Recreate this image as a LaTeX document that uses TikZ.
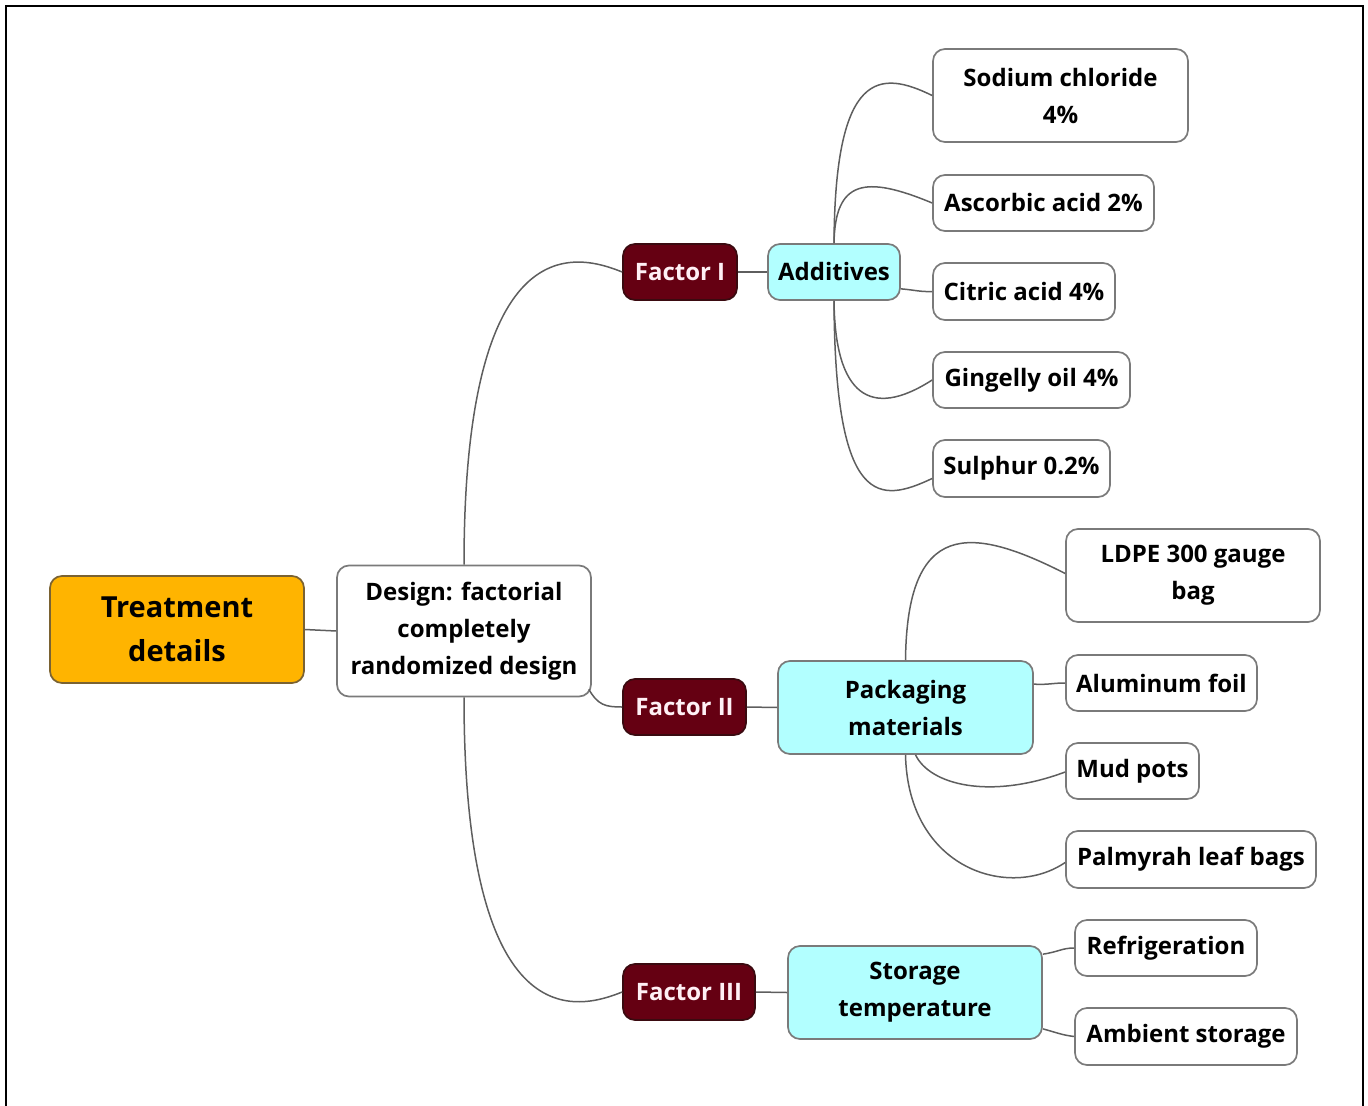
\documentclass[tikz,border=0pt]{standalone}
\usepackage{fontspec}
\setmainfont{Open Sans}
\usetikzlibrary{calc}
\definecolor{orng}{HTML}{FFB400}
\definecolor{orngdraw}{HTML}{7A6232}
\definecolor{dred}{HTML}{650012}
\definecolor{dreddraw}{HTML}{3A0A10}
\definecolor{cyanfill}{HTML}{B2FFFF}
\definecolor{bgray}{HTML}{7A7A7A}
\definecolor{lgray}{HTML}{5E5E5E}
\definecolor{ftext}{HTML}{FFF0F5}
\begin{document}
\begin{tikzpicture}[x=0.5pt,y=-0.5pt,
  box/.style={rounded corners=6pt, draw=bgray, line width=0.85pt, inner sep=0pt,
    align=center, font=\fontsize{12}{18.5}\selectfont\bfseries},
  leaf/.style={box, fill=white},
  factor/.style={box, fill=dred, draw=dreddraw, text=ftext},
  mid/.style={box, fill=cyanfill},
  root/.style={box, fill=orng, draw=orngdraw, font=\fontsize{14.5}{22}\selectfont\bfseries},
  link/.style={draw=lgray, line width=0.75pt}]
\useasboundingbox (0,0) rectangle (1368,1106);
\draw[line width=1pt] (6,1106) -- (6,6) -- (1363,6) -- (1363,1106);

\node[root, minimum width=127pt, minimum height=53.5pt] (treat) at (177,629.5) {Treatment\\details};
\node[leaf, minimum width=127pt, minimum height=65.5pt] (design) at (464,631) {Design: factorial\\completely\\randomized design};
\node[factor, minimum width=57pt, minimum height=28pt] (f1) at (680,272) {Factor I};
\node[factor, minimum width=61.5pt, minimum height=28pt] (f2) at (684.5,707) {Factor II};
\node[factor, minimum width=66pt, minimum height=28pt] (f3) at (689,992) {Factor III};
\node[mid, minimum width=66pt, minimum height=28pt] (add) at (834,272) {Additives};
\node[mid, minimum width=127.5pt, minimum height=46.5pt] (pack) at (905.5,707.5) {Packaging\\materials};
\node[mid, minimum width=127pt, minimum height=46.5pt] (stor) at (915,992.5) {Storage\\temperature};
\node[leaf, minimum width=127.5pt, minimum height=46.5pt] (sod) at (1060.5,95.5) {Sodium chloride\\4\%};
\node[leaf, minimum width=110.5pt, minimum height=28pt] (asc) at (1043.5,203) {Ascorbic acid 2\%};
\node[leaf, minimum width=91pt, minimum height=28.5pt] (cit) at (1024,291.5) {Citric acid 4\%};
\node[leaf, minimum width=98.5pt, minimum height=28pt] (gin) at (1031.5,380) {Gingelly oil 4\%};
\node[leaf, minimum width=88.5pt, minimum height=28.5pt] (sul) at (1021.5,468.5) {Sulphur 0.2\%};
\node[leaf, minimum width=127pt, minimum height=46.5pt] (ldpe) at (1193,575.5) {LDPE 300 gauge\\bag};
\node[leaf, minimum width=95.5pt, minimum height=28pt] (alu) at (1161.5,683) {Aluminum foil};
\node[leaf, minimum width=66.5pt, minimum height=28pt] (mud) at (1132.5,771) {Mud pots};
\node[leaf, minimum width=125pt, minimum height=28.5pt] (palm) at (1191,859.5) {Palmyrah leaf bags};
\node[leaf, minimum width=91pt, minimum height=28pt] (ref) at (1166,948) {Refrigeration};
\node[leaf, minimum width=111pt, minimum height=28.5pt] (amb) at (1186,1036.5) {Ambient storage};

\draw[link] (treat.east) -- (design.west);
\draw[link] (design.north) .. controls (464,220) and (580,255) .. (f1.west);
\draw[link] ($(design.south east)+(-3,-8)$) .. controls (598,705) and (605,707) .. (f2.west);
\draw[link] (design.south) .. controls (464,1043) and (580,1009) .. (f3.west);
\draw[link] (f1.east) -- (add.west);
\draw[link] (f2.east) -- (pack.west);
\draw[link] (f3.east) -- (stor.west);
\draw[link] (add.north) .. controls (835,69) and (880,70) .. (sod.west);
\draw[link] (add.north) .. controls (835,180) and (865,175) .. (asc.west);
\draw[link] ($(add.south east)+(0,-12)$) .. controls (915,290) and (920,292) .. (cit.west);
\draw[link] (add.south) .. controls (835,395) and (870,420) .. (gin.west);
\draw[link] (add.south) .. controls (835,510) and (880,503) .. ($(sul.west)+(0,10)$);
\draw[link] (pack.north) .. controls (907,520) and (970,525) .. ($(ldpe.west)+(0,-2)$);
\draw[link] ($(pack.north east)+(0,24)$) .. controls (1048,685) and (1052,683) .. (alu.west);
\draw[link] ($(pack.south)+(10,0)$) .. controls (930,785) and (990,800) .. ($(mud.west)+(0,1)$);
\draw[link] (pack.south) .. controls (908,870) and (1010,900) .. ($(palm.west)+(0,3)$);
\draw[link] ($(stor.north east)+(0,9)$) .. controls (1058,952) and (1062,948) .. (ref.west);
\draw[link] ($(stor.south east)+(0,-11)$) .. controls (1058,1033) and (1062,1035) .. (amb.west);
\end{tikzpicture}
\end{document}
